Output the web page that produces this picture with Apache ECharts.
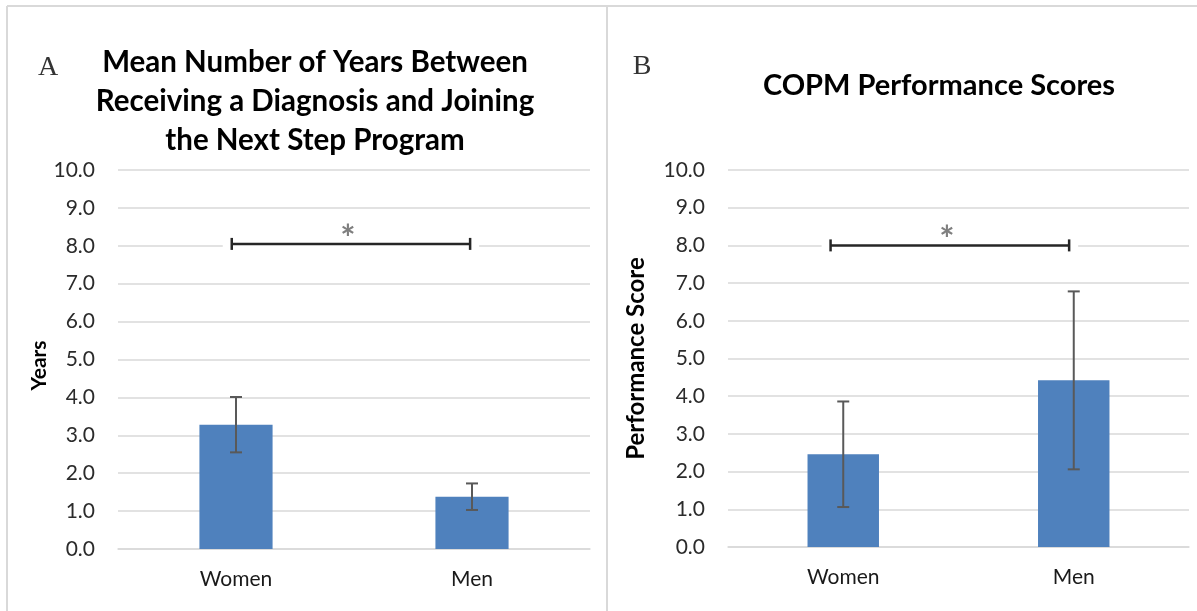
<!DOCTYPE html>
<html>
<head>
<meta charset="utf-8">
<script src="https://cdn.jsdelivr.net/npm/echarts@6/dist/echarts.min.js"></script>
<style>
html,body{margin:0;padding:0;background:#fff;}
#chart{width:1197px;height:611px;}
</style>
</head>
<body>
<div id="chart"></div>
<script>
// ---- data ----
const categories = ['Women', 'Men'];
const yearsMean = [3.28, 1.38];
const yearsErr = [0.73, 0.35];
const scoreMean = [2.46, 4.42];
const scoreErr = [1.40, 2.36];
const yTickMin = 0, yTickMax = 10, yTickStep = 1;
// significance bracket: [left position, right position, level]
const bracketA = [-0.018, 0.992, 8.05];
const bracketB = [-0.055, 0.98, 8.0];
const titleA = 'Mean Number of Years Between\nReceiving a Diagnosis and Joining\nthe Next Step Program';
const titleB = 'COPM Performance Scores';
const yNameA = 'Years';
const yNameB = 'Performance Score';

const FONT = 'Lato';
const GRID = '#d9d9d9';
const BAR = '#4f81bd';

function errData(mean, err) {
  return mean.map((m, i) => [i, m - err[i], m + err[i]]);
}

function renderErr(params, api) {
  const x = api.value(0);
  const lo = api.coord([x, api.value(1)]);
  const hi = api.coord([x, api.value(2)]);
  const w = 6;
  const st = { stroke: '#595959', lineWidth: 2 };
  return {
    type: 'group',
    children: [
      { type: 'line', shape: { x1: lo[0], y1: lo[1], x2: hi[0], y2: hi[1] }, style: st },
      { type: 'line', shape: { x1: hi[0] - w, y1: hi[1], x2: hi[0] + w, y2: hi[1] }, style: st },
      { type: 'line', shape: { x1: lo[0] - w, y1: lo[1], x2: lo[0] + w, y2: lo[1] }, style: st }
    ]
  };
}

function renderBracket(params, api) {
  const p1 = api.coord([api.value(0), api.value(2)]);
  const p2 = api.coord([api.value(1), api.value(2)]);
  const pad = 9, cap = 6;
  const st = { stroke: '#262626', lineWidth: 2.5 };
  return {
    type: 'group',
    children: [
      { type: 'rect', shape: { x: p1[0] - pad, y: p1[1] - 4, width: p2[0] - p1[0] + 2 * pad, height: 8 }, style: { fill: '#fff' } },
      { type: 'line', shape: { x1: p1[0], y1: p1[1], x2: p2[0], y2: p2[1] }, style: st },
      { type: 'line', shape: { x1: p1[0], y1: p1[1] - cap, x2: p1[0], y2: p1[1] + cap }, style: st },
      { type: 'line', shape: { x1: p2[0], y1: p2[1] - cap, x2: p2[0], y2: p2[1] + cap }, style: st },
      { type: 'text', style: { text: '*', x: (p1[0] + p2[0]) / 2 - 3, y: p1[1] - 5, align: 'center', verticalAlign: 'middle', fontSize: 36, fontWeight: 'bold', fontFamily: FONT, fill: '#7f7f7f' } }
    ]
  };
}

function yAxis(gridIndex, name, nameGap, nameSize, namePad) {
  return {
    type: 'value', gridIndex, min: yTickMin, max: yTickMax, interval: yTickStep,
    name, nameLocation: 'middle', nameGap,
    nameTextStyle: { fontFamily: FONT, fontWeight: 'bold', fontSize: nameSize, color: '#000', padding: namePad },
    axisLine: { show: false }, axisTick: { show: false },
    axisLabel: { fontFamily: FONT, fontSize: 21, color: '#2b2b2b', margin: 23, formatter: v => v.toFixed(1) },
    splitLine: { lineStyle: { color: GRID, width: 1.5 } }
  };
}

function catAxis(gridIndex) {
  return {
    type: 'category', gridIndex, data: categories,
    axisLine: { lineStyle: { color: GRID, width: 1.5 } }, axisTick: { show: false },
    axisLabel: { fontFamily: FONT, fontSize: 21, color: '#1a1a1a', margin: 20 }
  };
}

function hiddenX(gridIndex) {
  return { type: 'value', gridIndex, min: -0.5, max: 1.5, show: false, splitLine: { show: false } };
}

const chart = echarts.init(document.getElementById('chart'), null, { renderer: 'canvas' });
chart.setOption({
  backgroundColor: '#fff',
  animation: false,
  title: [
    { text: titleA, left: 310, top: 38, textAlign: 'center',
      textStyle: { fontFamily: FONT, fontWeight: 'bold', fontSize: 29.5, lineHeight: 39, color: '#000' } },
    { text: titleB, left: 934, top: 61, textAlign: 'center',
      textStyle: { fontFamily: FONT, fontWeight: 'bold', fontSize: 29, lineHeight: 39, color: '#000' } },
    { text: 'A', left: 43, top: 49, textAlign: 'center',
      textStyle: { fontFamily: 'Liberation Serif', fontWeight: 'normal', fontSize: 28, color: '#333' } },
    { text: 'B', left: 637, top: 48, textAlign: 'center',
      textStyle: { fontFamily: 'Liberation Serif', fontWeight: 'normal', fontSize: 28, color: '#333' } }
  ],
  graphic: [
    { type: 'line', shape: { x1: 7, y1: 6, x2: 1197, y2: 6 }, style: { stroke: GRID, lineWidth: 2 } },
    { type: 'line', shape: { x1: 7, y1: 6, x2: 7, y2: 611 }, style: { stroke: GRID, lineWidth: 2 } },
    { type: 'line', shape: { x1: 607, y1: 6, x2: 607, y2: 611 }, style: { stroke: GRID, lineWidth: 2 } }
  ],
  grid: [
    { left: 118, top: 170, width: 472, height: 379 },
    { left: 728, top: 170, width: 461, height: 377 }
  ],
  xAxis: [catAxis(0), catAxis(1), hiddenX(0), hiddenX(1)],
  yAxis: [yAxis(0, yNameA, 67, 21, [0, 12, 0, 0]), yAxis(1, yNameB, 80, 24, [0, 0, 0, 0])],
  series: [
    { type: 'bar', xAxisIndex: 0, yAxisIndex: 0, data: yearsMean, barWidth: '31%', itemStyle: { color: BAR } },
    { type: 'bar', xAxisIndex: 1, yAxisIndex: 1, data: scoreMean, barWidth: '31%', itemStyle: { color: BAR } },
    { type: 'custom', xAxisIndex: 0, yAxisIndex: 0, data: errData(yearsMean, yearsErr), encode: { x: 0, y: [1, 2] }, renderItem: renderErr, z: 5 },
    { type: 'custom', xAxisIndex: 1, yAxisIndex: 1, data: errData(scoreMean, scoreErr), encode: { x: 0, y: [1, 2] }, renderItem: renderErr, z: 5 },
    { type: 'custom', xAxisIndex: 2, yAxisIndex: 0, data: [bracketA], encode: { x: [0, 1], y: 2 }, renderItem: renderBracket, z: 5 },
    { type: 'custom', xAxisIndex: 3, yAxisIndex: 1, data: [bracketB], encode: { x: [0, 1], y: 2 }, renderItem: renderBracket, z: 5 }
  ]
});
</script>
</body>
</html>
